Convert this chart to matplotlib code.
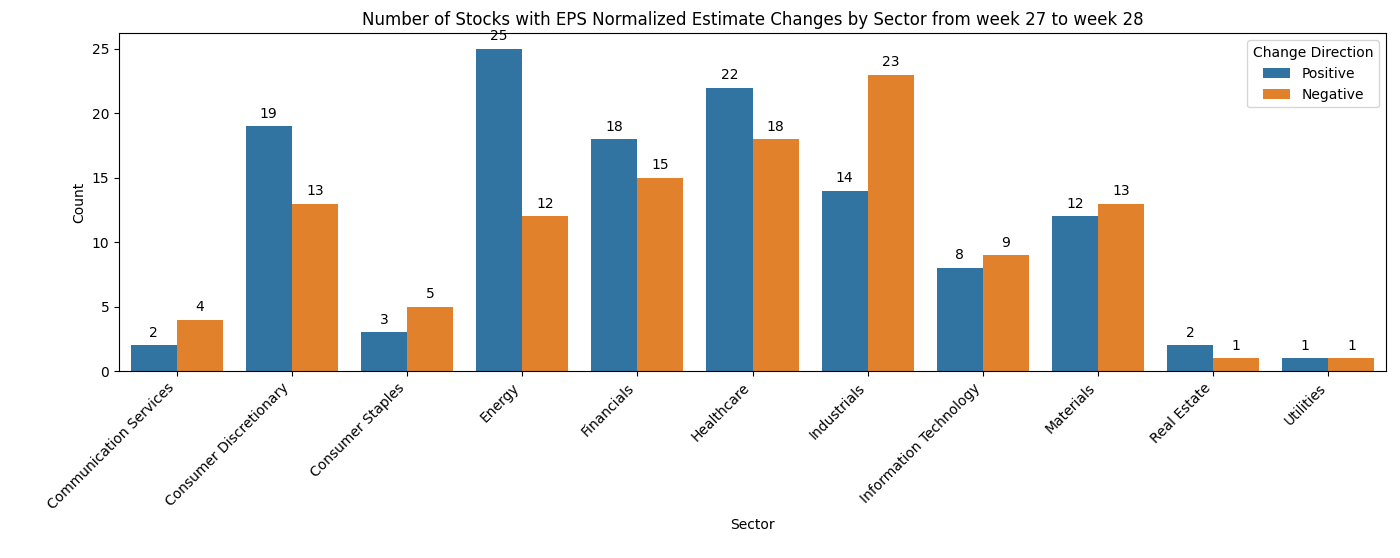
import matplotlib.pyplot as plt
import numpy as np

sectors = ['Communication Services', 'Consumer Discretionary', 'Consumer Staples', 'Energy',
           'Financials', 'Healthcare', 'Industrials', 'Information Technology',
           'Materials', 'Real Estate', 'Utilities']
positive = [2, 19, 3, 25, 18, 22, 14, 8, 12, 2, 1]
negative = [4, 13, 5, 12, 15, 18, 23, 9, 13, 1, 1]

fig = plt.figure(figsize=(14, 5.58), dpi=100)
ax = fig.add_axes([0.085, 0.335, 0.905, 0.605])

x = np.arange(len(sectors))
w = 0.4
b1 = ax.bar(x - w/2, positive, w, color='#3274a1', label='Positive')
b2 = ax.bar(x + w/2, negative, w, color='#e1812c', label='Negative')

for bars in (b1, b2):
    for r in bars:
        ax.annotate(f'{int(r.get_height())}', (r.get_x() + r.get_width()/2, r.get_height()),
                    xytext=(0, 4), textcoords='offset points', ha='center', va='bottom', fontsize=10)

ax.set_xlim(-0.5, len(sectors) - 0.5)
ax.set_ylim(0, 26.2)
ax.set_xticks(x)
ax.set_xticklabels(sectors, rotation=45, ha='right')
ax.set_xlabel('Sector')
ax.set_ylabel('Count')
ax.set_title('Number of Stocks with EPS Normalized Estimate Changes by Sector from week 27 to week 28')
ax.legend(title='Change Direction', loc='upper right')

fig.savefig('out.png', dpi=100)
